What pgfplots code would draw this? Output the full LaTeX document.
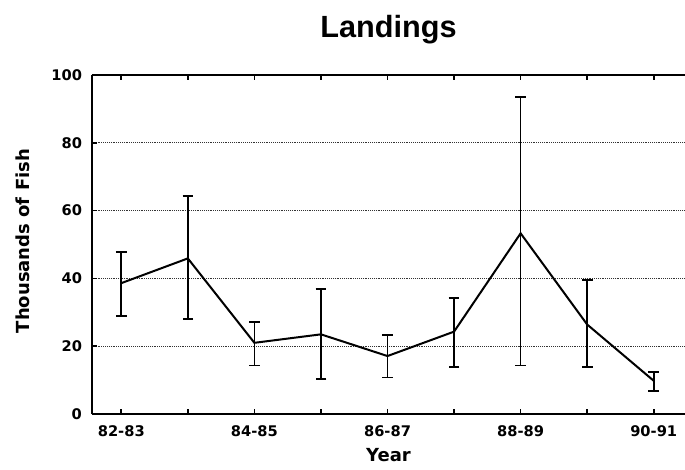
\documentclass[border=0pt]{standalone}
\usepackage{fontspec}
\setmainfont{DejaVu Sans}
\newfontfamily\titlefont{Liberation Sans}
\usepackage{pgfplots}
\usepackage{pgfplotstable}
\pgfplotsset{compat=1.18}
\pgfplotstableread{
x y ep em
0 38.6 9.1 9.7
1 45.9 18.4 17.9
2 21.0 6.2 6.7
3 23.5 13.3 13.2
4 17.1 6.1 6.3
5 24.3 10.0 10.4
6 53.3 40.3 39.0
7 26.4 13.1 12.5
8 9.8 2.5 3.0
}\landings
\begin{document}
\begin{tikzpicture}
\begin{axis}[
  scale only axis,
  width=444.75pt, height=254.25pt,
  xmin=-0.44, xmax=8.47,
  ymin=0, ymax=100,
  axis x line=box, axis y line=left,
  y axis line style={-},
  axis line style={line width=1.3pt},
  xtick={0,...,8},
  xticklabels={82-83,,84-85,,86-87,,88-89,,90-91},
  ytick={0,20,40,60,80,100},
  tick align=inside,
  major tick length=4pt,
  tick style={line width=1.2pt, black},
  /pgf/number format/assume math mode=true,
  ticklabel style={font=\fontsize{11}{13}\selectfont\bfseries},
  yticklabel style={xshift=-4pt},
  xticklabel style={yshift=-5pt},
  ymajorgrids,
  grid style={densely dotted, line width=0.6pt, black!80},
  title={Landings},
  title style={font=\titlefont\fontsize{23}{27}\selectfont\bfseries, at={(axis description cs:0.5,1.0856)}, anchor=base},
  xlabel={Year},
  xlabel style={font=\fontsize{13.5}{16}\selectfont\bfseries, at={(axis description cs:0.5,-0.121)}, anchor=center},
  ylabel={Thousands of Fish},
  ylabel style={font=\fontsize{13.5}{16}\selectfont\bfseries, at={(axis description cs:-0.1164,0.51)}, anchor=center},
]
\addplot[black, line width=1.5pt, no markers,
  error bars/.cd, y dir=both, y explicit,
  error bar style={line width=1.3pt, black},
  error mark options={rotate=90, mark size=4pt, line width=1.3pt, black}]
  table[x=x, y=y, y error plus=ep, y error minus=em]{\landings};
\end{axis}
\pgfresetboundingbox
\path[use as bounding box] ([xshift=-69pt,yshift=-41.25pt]current axis.south west) rectangle ([yshift=56.25pt]current axis.north east);
\end{tikzpicture}
\end{document}
